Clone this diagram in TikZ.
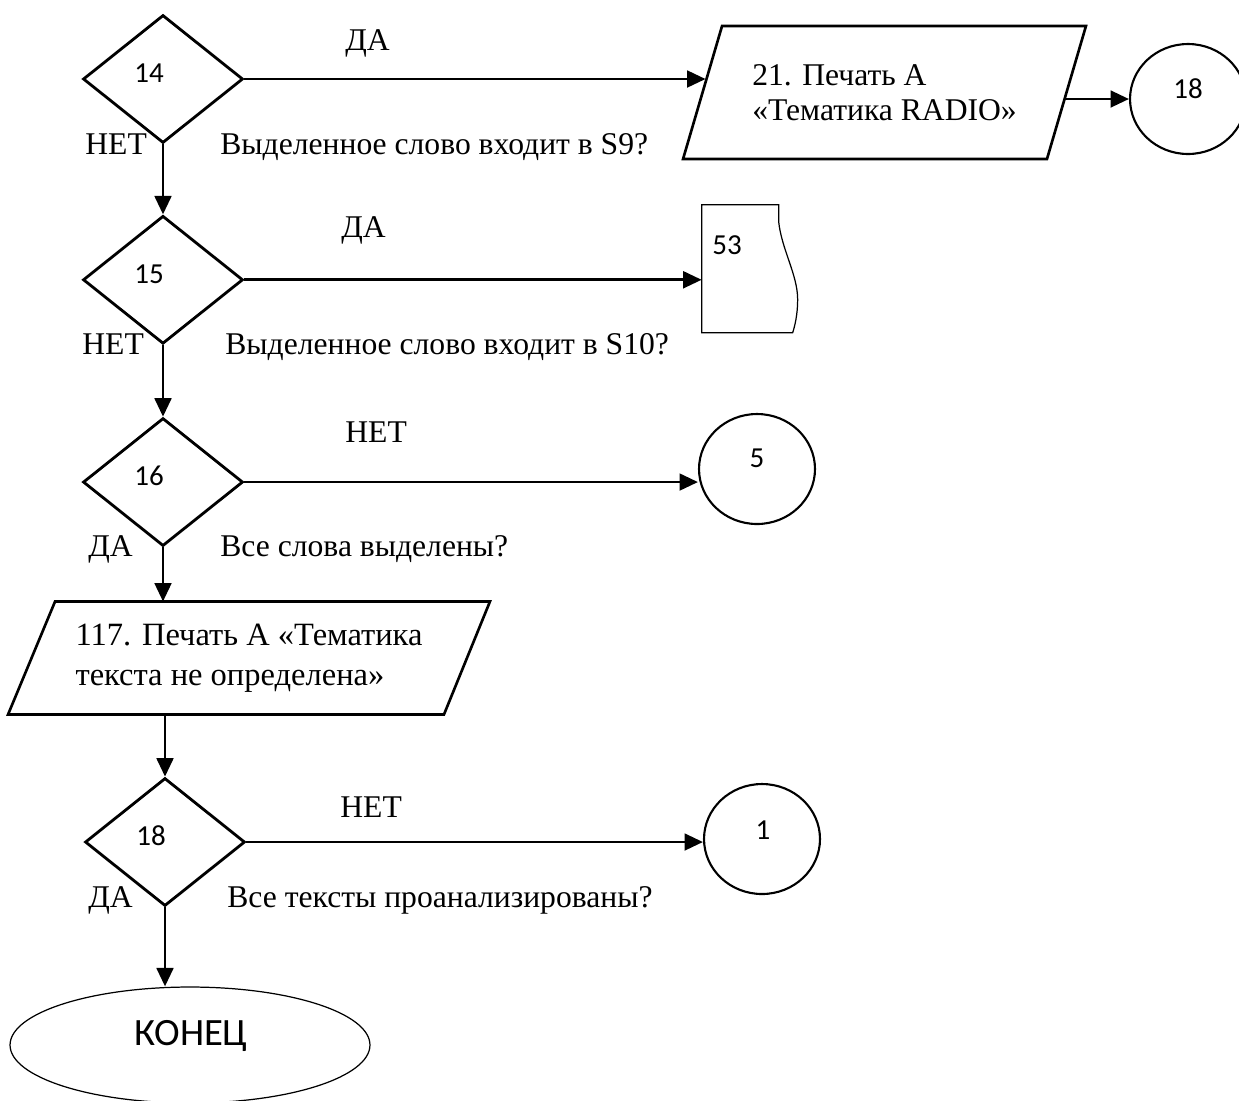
\documentclass[tikz,border=0pt]{standalone}
\usepackage{fontspec}
\setmainfont{Liberation Serif}
\newfontfamily\numfont{Carlito}
\usetikzlibrary{arrows.meta, positioning, shapes.geometric}

\begin{document}
\begin{tikzpicture}[
  x=0.02cm, y=-0.02cm,
  font=\fontsize{18}{20}\selectfont,
  decision/.style={draw, diamond, line width=1.6pt, minimum width=3.2cm, minimum height=2.56cm, inner sep=0pt},
  iobox/.style={align=left, inner sep=0pt, outer sep=0pt},
  ioline/.style={line width=1.5pt, line join=miter},
  connector/.style={draw, ellipse, line width=1.2pt, minimum width=2.32cm, minimum height=2.2cm},
  num/.style={font=\numfont\fontsize{16.5}{19}\selectfont, inner sep=0pt},
  lbl/.style={anchor=base west, inner sep=0pt},
  flow/.style={-{Triangle[length=10.5pt, width=9.5pt]}, line width=1.6pt}
]
  \useasboundingbox (0,0) rectangle (1239,1100);
  \clip (0,0) rectangle (1239,1100);

  % decisions
  \node[decision] (d14) at (163,79) {};
  \node[decision, below=1.4cm of d14] (d15) {};
  \node[decision, below=1.43cm of d15] (d16) {};
  \node[decision] (d18) at (165,842) {};
  \foreach \d in {14,15,16,18}
    \node[num] (n\d) at ([shift={(-14,-6)}]d\d) {\d};

  % yes / no and questions
  \node[lbl] (yes14) at (345,50) {ДА};
  \node[lbl] (no14) at (85,154) {НЕТ};
  \node[lbl] (q14) at (220,154) {Выделенное слово входит в S9?};
  \node[lbl] (yes15) at (341,237) {ДА};
  \node[lbl] (no15) at (82,354) {НЕТ};
  \node[lbl] (q15) at (225,354) {Выделенное слово входит в S10?};
  \node[lbl] (no16) at (345,442) {НЕТ};
  \node[lbl] (yes16) at (88,556) {ДА};
  \node[lbl] (q16) at (220,556) {Все слова выделены?};
  \node[lbl] (no18) at (340,817) {НЕТ};
  \node[lbl] (yes18) at (88,907) {ДА};
  \node[lbl] (q18) at (227,907) {Все тексты проанализированы?};

  % output blocks
  \node[iobox, minimum width=8.06cm, minimum height=2.66cm] (p21) at (884.5,92.5)
        {21. Печать А\\«Тематика RADIO»};
  \draw[ioline] ([xshift=0.78cm]p21.north west) -- (p21.north east)
    -- ([xshift=-0.78cm]p21.south east) -- (p21.south west) -- cycle;
  \node[iobox, minimum width=9.64cm, minimum height=2.26cm,
        font=\fontsize{18.5}{22.5}\selectfont] (p117) at (249,658)
        {117. Печать А «Тематика\\текста не определена»};
  \draw[ioline] ([xshift=0.94cm]p117.north west) -- (p117.north east)
    -- ([xshift=-0.92cm]p117.south east) -- (p117.south west) -- cycle;

  % connectors
  \node[connector] (c18) at (1188,99) {};
  \node[connector] (c5) at (757,469) {};
  \node[connector] (c1) at (762,839) {};
  \node[num] (t18) at (1188,89) {18};
  \node[num] (t5) at (757,458) {5};
  \node[num] (t1) at (763,830) {1};

  % document 53
  \node[minimum width=1.82cm, minimum height=2.56cm, inner sep=0pt] (doc53) at (747.5,269) {};
  \draw[line width=0.7pt, shift={(doc53.north west)}]
    (0,0) -- (77,0) -- (77,17) .. controls (80,45) and (96,70) .. (96,95)
    .. controls (96,110) and (93,122) .. (91,128) -- (0,128) -- cycle;
  \node[num] (t53) at (727,245) {53};

  % end
  \node[draw, ellipse, line width=0.7pt, minimum width=7.2cm, minimum height=2.32cm] (fin) at (190,1045) {};
  \node[num, font=\numfont\fontsize{22}{26}\selectfont] (tfin) at (191,1036) {КОНЕЦ};

  % flow lines
  \draw[flow] (d14.east) -- ([xshift=0.45cm]d14.east -| p21.west);
  \draw[flow] ([xshift=-0.43cm]p21.east |- c18.west) -- (c18.west);
  \draw[flow] (d14.south) -- (d15.north);
  \draw[flow] (d15.east) -- (d15.east -| doc53.west);
  \draw[flow] (d15.south) -- (d16.north);
  \draw[flow] (d16.east) -- (d16.east -| c5.west);
  \draw[flow] (d16.south) -- (d16.south |- p117.north);
  \draw[flow] (p117.south -| d18.north) -- (d18.north);
  \draw[flow] (d18.east) -- (d18.east -| c1.west);
  \draw[flow] (d18.south) -- (d18.south |- fin.north);
\end{tikzpicture}
\end{document}
